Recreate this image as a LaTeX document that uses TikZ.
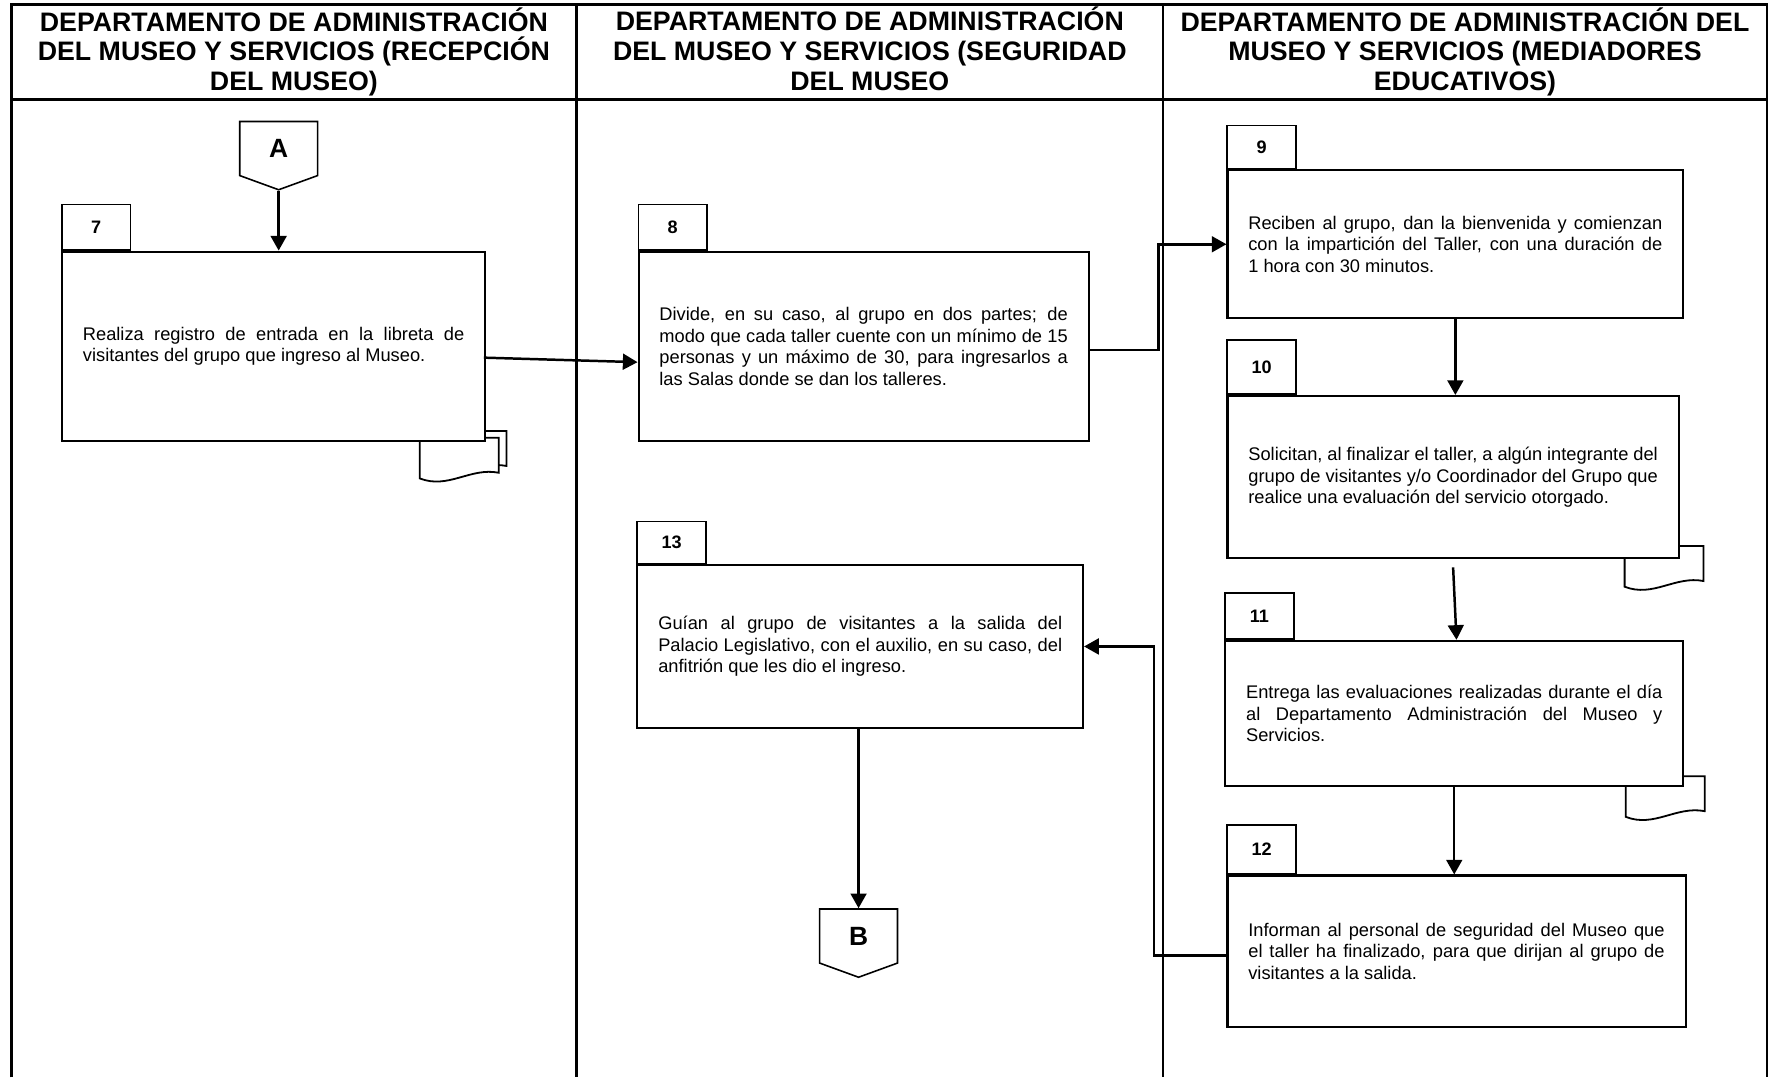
\documentclass[tikz,border=0pt]{standalone}
\usepackage{fontspec}
\setmainfont{Liberation Sans}
\usetikzlibrary{arrows.meta,positioning,shapes.symbols,calc}
\tikzset{
  lane/.style={line width=1.1pt},
  lanehead/.style={
    font=\fontsize{11.85}{13.25}\selectfont\bfseries, align=center,
    inner sep=0pt
  },
  procbox/.style={
    rectangle, draw, fill=white, line width=0.9pt,
    text width=#1, align=justify, inner xsep=9.25pt, inner ysep=0pt,
    font=\fontsize{8.1}{9.5}\selectfont
  },
  numtab/.style={
    rectangle, draw, fill=white, line width=0.7pt,
    minimum width=30.5pt, minimum height=#1, inner sep=0pt,
    font=\fontsize{8}{9.5}\selectfont\bfseries
  },
  numtab/.default=20pt,
  offpage/.style={
    signal, signal to=south, signal from=nowhere, signal pointer angle=140,
    draw, fill=white, line width=0.7pt,
    minimum width=34.5pt, minimum height=25.5pt, inner sep=0pt,
    font=\fontsize{11.7}{13}\selectfont\bfseries
  },
  docpage/.style={draw, fill=white, line width=0.8pt},
  flowarrow/.style={
    -{Triangle[length=6.5pt,width=7pt]}, line width=1.1pt
  },
}

\begin{document}
\begin{tikzpicture}[x=0.5pt, y=-0.5pt]
  \useasboundingbox (0,0) rectangle (1568,955);
  \fill[white] (0,0) rectangle (1568,955);

  % Swimlane frame
  \draw[lane] (10,955) -- (10,4) -- (1566,4) -- (1566,955);
  \draw[lane] (10,88) -- (1566,88);
  \foreach \x in {511,1031}
    \draw[lane] (\x,4) -- (\x,955);

  % Lane headers
  \node[lanehead] (hdrrecep) at (260.5,46) {DEPARTAMENTO DE ADMINISTRACIÓN\\DEL MUSEO Y SERVICIOS (RECEPCIÓN\\DEL MUSEO)};
  \node[lanehead] (hdrseg) at (771,43.5) {DEPARTAMENTO DE ADMINISTRACIÓN\\DEL MUSEO Y SERVICIOS (SEGURIDAD\\DEL MUSEO};
  \node[lanehead] (hdrmed) at (1298.5,46) {DEPARTAMENTO DE ADMINISTRACIÓN DEL\\MUSEO Y SERVICIOS (MEDIADORES\\EDUCATIVOS)};

  % Document symbols (behind the boxes)
  \foreach \dx/\dy in {379/382, 372/388, 1440/484, 1441/688}
    \draw[docpage, shift={(\dx,\dy)}] (0,0) -- (0,36)
      .. controls (25,46) and (45,26) .. (70,31) -- (70,0) -- cycle;

  % Activities
  \node[procbox=169pt, minimum height=84pt] (b7) at (242.5,307)
    {Realiza registro de entrada en la libreta de\linebreak visitantes del grupo que ingreso al Museo.};
  \node[procbox=181pt, minimum height=84pt] (b8) at (765.5,307)
    {Divide, en su caso, al grupo en dos partes; de\linebreak modo que cada taller cuente con un mínimo de 15\linebreak personas y un máximo de 30, para ingresarlos a\linebreak las Salas donde se dan los talleres.};
  \node[procbox=183.5pt, minimum height=65.5pt] (b9) at (1290,216.5)
    {Reciben al grupo, dan la bienvenida y comienzan\linebreak con la impartición del Taller, con una duración de\linebreak 1 hora con 30 minutos.};
  \node[procbox=181.5pt, minimum height=72pt] (b10) at (1288,423)
    {Solicitan, al finalizar el taller, a algún integrante del\linebreak grupo de visitantes y/o Coordinador del Grupo que\linebreak realice una evaluación del servicio otorgado.};
  \node[procbox=184.5pt, minimum height=64.5pt] (b11) at (1289,632.5)
    {Entrega las evaluaciones realizadas durante el día\linebreak al Departamento Administración del Museo y\linebreak Servicios.};
  \node[procbox=184.5pt, minimum height=67pt] (b12) at (1291,843)
    {Informan al personal de seguridad del Museo que\linebreak el taller ha finalizado, para que dirijan al grupo de\linebreak visitantes a la salida.};
  \node[procbox=179pt, minimum height=72pt] (b13) at (762.5,573)
    {Guían al grupo de visitantes a la salida del\linebreak Palacio Legislativo, con el auxilio, en su caso, del\linebreak anfitrión que les dio el ingreso.};

  % Step numbers
  \node[numtab, above right=0pt and 0pt of b7.north west] (t7) {7};
  \node[numtab, above right=0pt and 0pt of b8.north west] (t8) {8};
  \node[numtab=19pt, above right=0pt and 0pt of b9.north west] (t9) {9};
  \node[numtab=24pt, above right=0pt and 0pt of b10.north west] (t10) {10};
  \node[numtab=20.5pt, above right=0pt and 0pt of b11.north west] (t11) {11};
  \node[numtab=21.5pt, above right=0pt and 0pt of b12.north west] (t12) {12};
  \node[numtab=18.5pt, above right=0pt and 0pt of b13.north west] (t13) {13};

  % Off-page connectors
  \node[offpage, anchor=north] (conA) at (247,107) {A};
  \node[offpage, anchor=north] (conB) at (761,805) {B};

  % Flow
  \coordinate (jog89) at (1027,310);
  \coordinate (jog1213) at (1023,847);
  \draw[flowarrow] (conA.south) -- (conA.south |- b7.north);
  \draw[flowarrow] ($(b7.east)+(-2,10)$) -- ($(b8.west)+(0,14)$);
  \draw[flowarrow] ($(b8.east)+(0,3)$) -- (jog89) |- (b9.west);
  \draw[flowarrow] (b9.south) -- (b9.south |- b10.north);
  \draw[flowarrow] ($(b10.south)+(0,7)$) -- ($(b11.north)+(2,0)$);
  \draw[flowarrow] (b11.south) -- (b11.south |- b12.north);
  \draw[flowarrow] (b12.west |- jog1213) -- (jog1213) |- (b13.east);
  \draw[flowarrow] (conB.north |- b13.south) -- (conB.north);
\end{tikzpicture}
\end{document}
